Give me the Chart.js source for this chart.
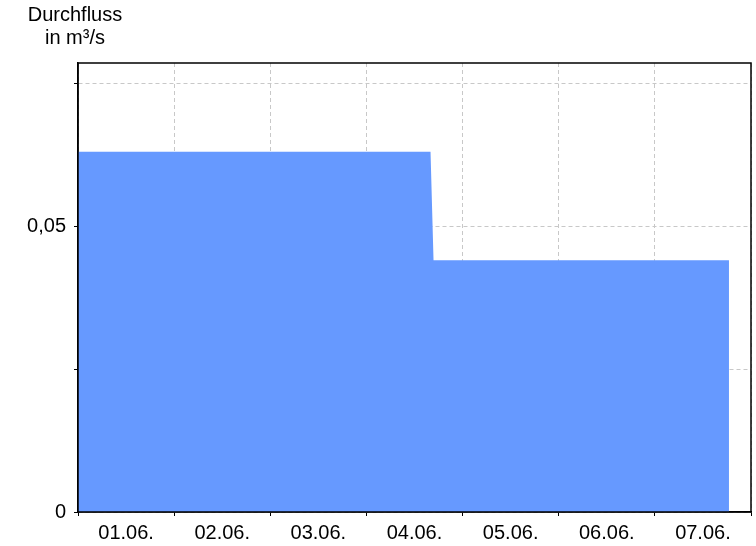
<!DOCTYPE html>
<html lang="de">
<head>
  <meta charset="UTF-8" />
  <title>Durchfluss</title>
  <style>
    html, body { margin: 0; padding: 0; background: #fff; }
    .wrap { position: relative; width: 756px; height: 546px; }
    .unit {
      position: absolute; left: 0; top: 3px; width: 150px;
      text-align: center; font: 20px "Liberation Sans", Arial, sans-serif;
      line-height: 23px; color: #000;
    }
  </style>
</head>
<body>
  <div class="wrap">
    <div class="unit">Durchfluss<br>in m³/s</div>
    <canvas id="chart" width="756" height="546"></canvas>
  </div>

  <script src="https://cdn.jsdelivr.net/npm/chart.js"></script>
  <script>
    // Daten: Stunden ab 01.06. 00:00 und Durchfluss in m³/s
    const days = ["01.06.", "02.06.", "03.06.", "04.06.", "05.06.", "06.06.", "07.06."];
    const hours = [0, 88, 88.75, 162.5];
    const flow = [0.063, 0.063, 0.044, 0.044];
    const yLabels = { 0: "0", 0.05: "0,05" };

    const gridGrey = "#c8c8c8";

    // Rahmen um die Zeichenfläche
    const frame = {
      id: "frame",
      afterDraw(chart) {
        const a = chart.chartArea;
        const c = chart.ctx;
        c.save();
        c.strokeStyle = "#000";
        c.lineWidth = 1.5;
        c.strokeRect(a.left, a.top, a.right - a.left, a.bottom - a.top);
        c.restore();
      }
    };

    new Chart(document.getElementById("chart"), {
      type: "line",
      data: {
        datasets: [{
          data: hours.map((h, i) => ({ x: h, y: flow[i] })),
          backgroundColor: "#6699ff",
          borderWidth: 0,
          pointRadius: 0,
          fill: "origin",
          tension: 0
        }]
      },
      options: {
        responsive: false,
        animation: false,
        layout: { padding: { left: 0, top: 63, right: 5, bottom: 0 } },
        plugins: { legend: { display: false }, tooltip: { enabled: false } },
        scales: {
          x: {
            type: "linear",
            min: 0,
            max: 168,
            afterFit(s) { s.height = 34; },
            ticks: {
              stepSize: 12,
              autoSkip: false,
              maxRotation: 0,
              padding: 5,
              color: "#000",
              font: { family: "Liberation Sans", size: 20 },
              callback: v => (v % 24 === 12 ? days[(v - 12) / 24] : "")
            },
            grid: {
              color: c => (c.tick && c.tick.value % 24 === 0 ? gridGrey : "transparent"),
              tickColor: c => (c.tick && c.tick.value % 24 === 0 ? "#000" : "transparent"),
              tickBorderDash: [],
              tickLength: 4,
              lineWidth: 1
            },
            border: { color: "#000", width: 1.5, dash: [4, 3] }
          },
          y: {
            min: 0,
            max: 0.0785,
            afterFit(s) { s.width = 78; },
            ticks: {
              stepSize: 0.025,
              includeBounds: false,
              padding: 8,
              color: "#000",
              font: { family: "Liberation Sans", size: 20 },
              callback: v => yLabels[Math.round(v * 1000) / 1000] || ""
            },
            grid: {
              color: gridGrey,
              tickColor: "#000",
              tickBorderDash: [],
              tickLength: 4,
              lineWidth: 1
            },
            border: { color: "#000", width: 1.5, dash: [4, 3] }
          }
        }
      },
      plugins: [frame]
    });
  </script>
</body>
</html>
